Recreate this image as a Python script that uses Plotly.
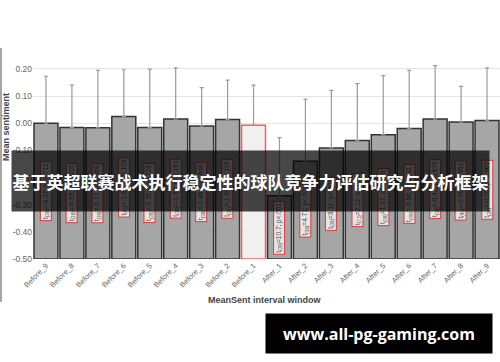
import plotly.graph_objects as go

categories = ["Before_9", "Before_8", "Before_7", "Before_6", "Before_5", "Before_4",
              "Before_3", "Before_2", "Before_1", "After_1", "After_2", "After_3",
              "After_4", "After_5", "After_6", "After_7", "After_8", "After_9"]
mean_sentiment = [0.000, -0.016, -0.017, 0.025, -0.016, 0.016, -0.010, 0.014, -0.007,
                  -0.267, -0.140, -0.091, -0.064, -0.042, -0.019, 0.016, 0.005, 0.010]
error_upper = [0.173, 0.156, 0.212, 0.172, 0.215, 0.188, 0.141, 0.145, 0.147,
               0.214, 0.229, 0.212, 0.210, 0.217, 0.214, 0.196, 0.131, 0.194]
t_labels = ["t<sub>(39)</sub>=-0.37; p=0.712", "t<sub>(39)</sub>=-0.59; p=0.555",
            "t<sub>(39)</sub>=-0.17; p=0.868", "t<sub>(41)</sub>=-1.64; p=0.109",
            "t<sub>(39)</sub>=-0.35; p=0.728", "t<sub>(39)</sub>=-1.33; p=0.191",
            "t<sub>(39)</sub>=-0.46; p=0.646", "t<sub>(39)</sub>=-1.60; p=0.116",
            "",
            "t<sub>(39)</sub>=10.7; p<.001", "t<sub>(39)</sub>=4.71; p<.001",
            "t<sub>(39)</sub>=3.11; p=.003", "t<sub>(71)</sub>=2.12; p=.038",
            "t<sub>(39)</sub>=1.37; p=0.178", "t<sub>(39)</sub>=-0.66; p=0.511",
            "t<sub>(39)</sub>=-0.42; p=0.678", "t<sub>(41)</sub>=-0.06; p=0.952",
            "t<sub>(39)</sub>=-0.05; p=0.960"]
y_ticks = [0.2, 0.1, 0.0, -0.1, -0.2, -0.3, -0.4, -0.5]
baseline = -0.5
title_text = "基于英超联赛战术执行稳定性的球队竞争力评估研究与分析框架"
watermark_text = "www.all-pg-gaming.com"
reference_window = "Before_1"

FW, FH = 500, 362
L, R, T, B = 33, 0, 60, 103
W, H = FW - L - R, FH - T - B


def px(x):
    return (x - L) / W


def py(y):
    return (FH - B - y) / H


fills = ["#f0f0f0" if c == reference_window else "#a6a6a6" for c in categories]
lines = ["#ff5a5a" if c == reference_window else "#333333" for c in categories]

fig = go.Figure()
fig.add_trace(go.Bar(
    x=categories,
    y=[v - baseline for v in mean_sentiment],
    base=baseline,
    marker=dict(color=fills, line=dict(color=lines, width=1.5)),
    error_y=dict(type="data", symmetric=False, array=error_upper,
                 arrayminus=[0] * len(categories), color="#9a9a9a",
                 thickness=1.2, width=2),
    showlegend=False,
))

annotations = []
for c, v, t in zip(categories, mean_sentiment, t_labels):
    if not t:
        continue
    annotations.append(dict(
        x=c, y=(v + baseline) / 2, xref="x", yref="y", text=t, showarrow=False,
        textangle=-90, font=dict(size=6.5, color="#4a4a4a", family="Liberation Sans"),
        bgcolor="#e6e6e6", bordercolor="#e03a3a", borderwidth=1, borderpad=1,
    ))

annotations.append(dict(
    x=px(6), y=py(127), xref="paper", yref="paper", text="<b>Mean sentiment</b>",
    showarrow=False, textangle=-90, font=dict(size=9, color="#444444",
                                               family="Liberation Sans"),
    xanchor="center", yanchor="middle"))
annotations.append(dict(
    x=px(265), y=py(300), xref="paper", yref="paper",
    text="<b>MeanSent interval window</b>", showarrow=False,
    font=dict(size=9, color="#444444", family="Liberation Sans"),
    xanchor="center", yanchor="middle"))
annotations.append(dict(
    x=px(250.5), y=py(181), xref="paper", yref="paper",
    text="<b>" + title_text + "</b>", showarrow=False,
    font=dict(size=17, color="#ffffff", family="Noto Sans CJK SC"),
    bgcolor="rgba(0,0,0,0.72)", width=477, height=60, borderpad=0,
    xanchor="center", yanchor="middle"))
annotations.append(dict(
    x=px(379), y=py(333.5), xref="paper", yref="paper",
    text="<b>" + watermark_text + "</b>", showarrow=False,
    font=dict(size=16, color="#ffffff", family="Open Sans"),
    bgcolor="#000000", width=226, height=39, borderpad=0,
    xanchor="center", yanchor="middle"))

fig.update_layout(
    width=FW, height=FH,
    margin=dict(l=L, r=R, t=T, b=B),
    paper_bgcolor="#ffffff", plot_bgcolor="#ffffff",
    bargap=0.077,
    annotations=annotations,
    shapes=[dict(type="line", xref="paper", yref="paper",
                 x0=px(1), x1=px(1), y0=py(48), y1=py(302),
                 line=dict(color="#888888", width=1.5))],
    xaxis=dict(tickangle=-45, tickfont=dict(size=7.5, color="#666666",
                                            family="Liberation Sans"),
               showgrid=False, showline=False, ticks=""),
    yaxis=dict(range=[-0.5, 0.2329], tickvals=y_ticks,
               ticktext=["%.2f" % v for v in y_ticks],
               tickfont=dict(size=8.5, color="#666666", family="Liberation Sans"),
               showgrid=True, gridcolor="#e4e4e4", gridwidth=1,
               zeroline=False, showline=False, ticks=""),
)

fig.write_html("out.html",
               config={"displayModeBar": False},
               post_script="document.body.style.margin='0px';"
                           "document.body.style.padding='0px';")
